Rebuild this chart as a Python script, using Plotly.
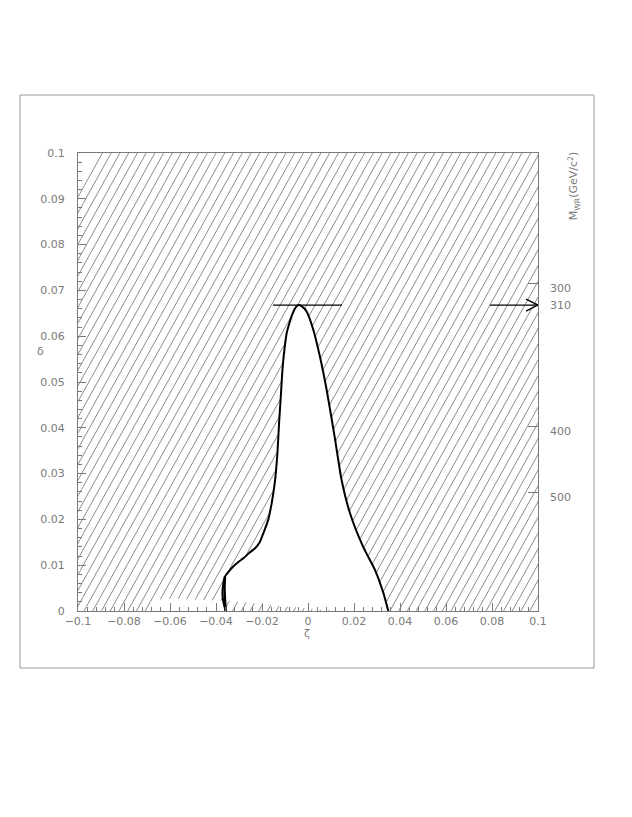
import numpy as np
import plotly.graph_objects as go

# allowed region boundary (zeta, delta)
zeta_left = [-0.0358, -0.0368, -0.0372, -0.0368, -0.0361, -0.0345, -0.0325, -0.0300, -0.0281,
             -0.0255, -0.0230, -0.0210, -0.0194, -0.0173, -0.0158, -0.0150, -0.0143, -0.0133,
             -0.0125, -0.0118, -0.0112, -0.0105, -0.0093, -0.0080, -0.0068, -0.0055, -0.0042]
delta_left = [0.0, 0.0020, 0.0040, 0.0060, 0.0075, 0.0086, 0.0097, 0.0108, 0.0115,
              0.0127, 0.0137, 0.0150, 0.0170, 0.0199, 0.0235, 0.0260, 0.0286, 0.0344,
              0.0417, 0.0470, 0.0520, 0.0560, 0.0606, 0.0630, 0.0648, 0.0662, 0.0668]
zeta_right = [-0.0030, -0.0006, 0.0023, 0.0052, 0.0081, 0.0117, 0.0146, 0.0183, 0.0240,
              0.0291, 0.0328, 0.0349]
delta_right = [0.0666, 0.0654, 0.0614, 0.0555, 0.0483, 0.0377, 0.0286, 0.0213, 0.0140,
               0.0090, 0.0039, 0.0]
# inner edge of the thick bit at the bottom of the left boundary
zeta_inner = [-0.0358, -0.0361, -0.0363, -0.0361]
delta_inner = [0.0, 0.0025, 0.0050, 0.0075]
# small unhatched strip at the bottom left
gap_zeta = [-0.0360, -0.0680, -0.0680]
gap_delta = [0.0022, 0.0022, 0.0]

# peak limit and right mass axis
peak_delta = 0.0668
peak_zeta = [-0.0152, 0.0148]
mass_ticks = [300, 400, 500]
mass_tick_delta = [0.0716, 0.0402, 0.0258]
arrow_mass = 310
arrow_zeta = 0.0791

GRAY = "#7a7a7a"
FONT = dict(family="DejaVu Sans", size=11, color=GRAY)

fig = go.Figure()

# hatching: steep "///" lines across the whole frame
slope = 1.8 * 2300 / 4580
hx, hy = [], []
for x0 in np.arange(-0.2, 0.1, 0.0038):
    hx += [x0, x0 + 0.1 / slope, None]
    hy += [0.0, 0.1, None]
fig.add_trace(go.Scatter(x=hx, y=hy, mode="lines", line=dict(color="#8c8c8c", width=1),
                         hoverinfo="skip", showlegend=False))

# blank out the allowed region
fx = zeta_left + zeta_right + gap_zeta
fy = delta_left + delta_right + gap_delta
fig.add_trace(go.Scatter(x=fx, y=fy, fill="toself", fillcolor="white", mode="lines",
                         line=dict(width=0, shape="spline", smoothing=0.6),
                         hoverinfo="skip", showlegend=False))

# boundary curve
fig.add_trace(go.Scatter(x=zeta_left + zeta_right, y=delta_left + delta_right, mode="lines",
                         line=dict(color="black", width=2, shape="spline", smoothing=0.6),
                         showlegend=False))
fig.add_trace(go.Scatter(x=zeta_inner, y=delta_inner, mode="lines",
                         line=dict(color="black", width=2.5, shape="spline"), showlegend=False))

# horizontal line at the peak
fig.add_trace(go.Scatter(x=peak_zeta, y=[peak_delta] * 2, mode="lines",
                         line=dict(color="black", width=1.3), showlegend=False))

# arrow pointing at the right axis (open head)
dx, dy = 12 / 2300, 6 / 4580
fig.add_trace(go.Scatter(x=[arrow_zeta, 0.1, None, 0.1 - dx, 0.1, 0.1 - dx],
                         y=[peak_delta, peak_delta, None, peak_delta + dy, peak_delta, peak_delta - dy],
                         mode="lines", line=dict(color="black", width=1.3),
                         yaxis="y2", showlegend=False))

fig.update_layout(
    width=632, height=817,
    margin=dict(l=70, r=102, t=145, b=214),
    paper_bgcolor="white", plot_bgcolor="white",
    font=FONT,
    xaxis=dict(range=[-0.1, 0.1], dtick=0.02, tick0=-0.1, ticks="inside", ticklen=8,
               tickcolor=GRAY, showline=True, linecolor=GRAY, linewidth=1, mirror=True,
               showgrid=False, zeroline=False, tickfont=FONT,
               minor=dict(ticks="inside", ticklen=4, dtick=0.004, tickcolor=GRAY)),
    yaxis=dict(range=[0, 0.1], dtick=0.01, ticks="inside", ticklen=8, tickcolor=GRAY,
               showline=True, linecolor=GRAY, linewidth=1, mirror=True,
               showgrid=False, zeroline=False, tickfont=FONT, ticklabelstandoff=10,
               minor=dict(ticks="inside", ticklen=4, dtick=0.002, tickcolor=GRAY)),
    yaxis2=dict(range=[0, 0.1], overlaying="y", side="right", tickvals=mass_tick_delta,
                ticks="inside", ticklen=10, tickcolor=GRAY, showticklabels=False,
                showline=False, showgrid=False, zeroline=False),
)

# right axis labels
for m, d in zip(mass_ticks, mass_tick_delta):
    fig.add_annotation(x=1, y=d, xref="paper", yref="y", text=str(m), showarrow=False,
                       xanchor="left", xshift=10, yshift=-5, font=FONT)
fig.add_annotation(x=1, y=peak_delta, xref="paper", yref="y", text=str(arrow_mass),
                   showarrow=False, xanchor="left", xshift=10, font=FONT)

# axis titles
fig.add_annotation(x=1.1, y=1.007, xref="paper", yref="paper", textangle=-90,
                   text="M<sub>WR</sub>(GeV/c<sup>2</sup>)", showarrow=False, font=FONT)
fig.add_annotation(x=-0.094, y=0.566, xref="paper", yref="paper", text="δ",
                   showarrow=False, font=FONT)
fig.add_annotation(x=0.498, y=-0.068, xref="paper", yref="paper", text="ζ",
                   showarrow=False, font=FONT)

# outer frame
fig.add_shape(type="rect", xref="paper", yref="paper", x0=-0.126, x1=1.1217,
              y0=-0.1245, y1=1.1266, line=dict(color="#999999", width=1))

fig.write_html("out.html")
